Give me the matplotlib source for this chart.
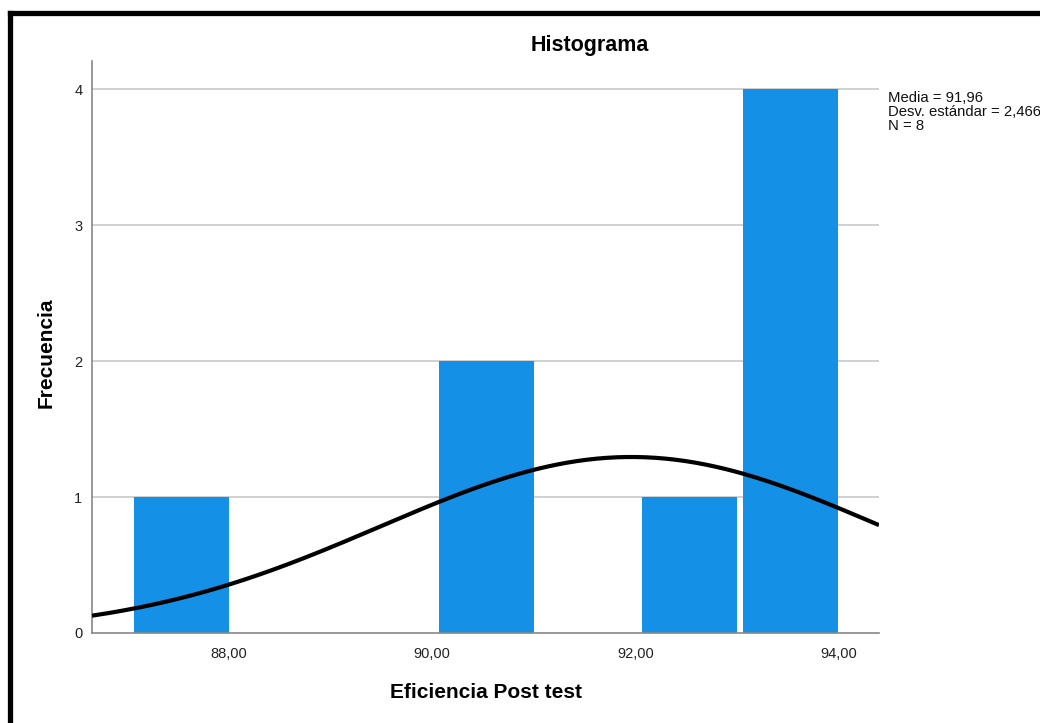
import numpy as np
import matplotlib
matplotlib.use("Agg")
import matplotlib.pyplot as plt
from matplotlib.lines import Line2D

# Data
bin_right_edges = [88, 91, 93, 94]
counts = [1, 2, 1, 4]
bar_width = 0.936
media = 91.96
desv = 2.466
n = 8
bin_size = 1.0
xticks = [88, 90, 92, 94]
xtick_labels = ["88,00", "90,00", "92,00", "94,00"]
yticks = [0, 1, 2, 3, 4]

plt.rcParams['font.family'] = ['Liberation Sans', 'DejaVu Sans']

fig = plt.figure(figsize=(10.4, 7.23), dpi=100)
ax = fig.add_axes([92/1040, 1-633/723, (879-92)/1040, (633-61)/723])

ax.set_xlim(86.65, 94.40)
ax.set_ylim(0, 4.206)

# grid
for yv in yticks[1:]:
    ax.axhline(yv, color='#c8c8c8', lw=1.2, zorder=1)

ax.bar(bin_right_edges, counts, width=-bar_width, align='edge',
       color='#1490e6', edgecolor='none', zorder=2)

xs = np.linspace(86.65, 94.40, 400)
ys = n * bin_size / (desv * np.sqrt(2*np.pi)) * np.exp(-0.5*((xs-media)/desv)**2)
ax.plot(xs, ys, color='black', lw=3, zorder=3, solid_capstyle='butt')

for s in ['top', 'right']:
    ax.spines[s].set_visible(False)
for s in ['left', 'bottom']:
    ax.spines[s].set_color('#888888')
    ax.spines[s].set_linewidth(1.2)

ax.set_xticks(xticks)
ax.set_xticklabels(xtick_labels)
ax.set_yticks(yticks)
ax.set_yticklabels([str(v) for v in yticks])
ax.tick_params(axis='both', length=0, labelsize=10.5, colors='#222222')
ax.tick_params(axis='y', pad=7)
ax.tick_params(axis='x', pad=10)

fig.text(590/1040, 1-45/723, "Histograma", ha='center', va='center',
         fontsize=15.5, fontweight='bold')
fig.text(486/1040, 1-692/723, "Eficiencia Post test", ha='center', va='center',
         fontsize=15, fontweight='bold')
fig.text(46/1040, 1-353/723, "Frecuencia", ha='center', va='center',
         fontsize=15, fontweight='bold', rotation=90)

fig.text(888/1040, 1-91/723,
         "Media = 91,96\nDesv. est\u00e1ndar = 2,466\nN = 8",
         ha='left', va='top', fontsize=10.7, linespacing=0.98, color='#111111')

# outer black frame (left and top visible)
fig.add_artist(Line2D([9.5/1040, 9.5/1040], [0, 1-12.5/723], color='black',
                      lw=3.8, transform=fig.transFigure, solid_capstyle='projecting'))
fig.add_artist(Line2D([9.5/1040, 1.0], [1-12.5/723, 1-12.5/723], color='black',
                      lw=3.8, transform=fig.transFigure, solid_capstyle='projecting'))

fig.savefig("out.png", dpi=100)
